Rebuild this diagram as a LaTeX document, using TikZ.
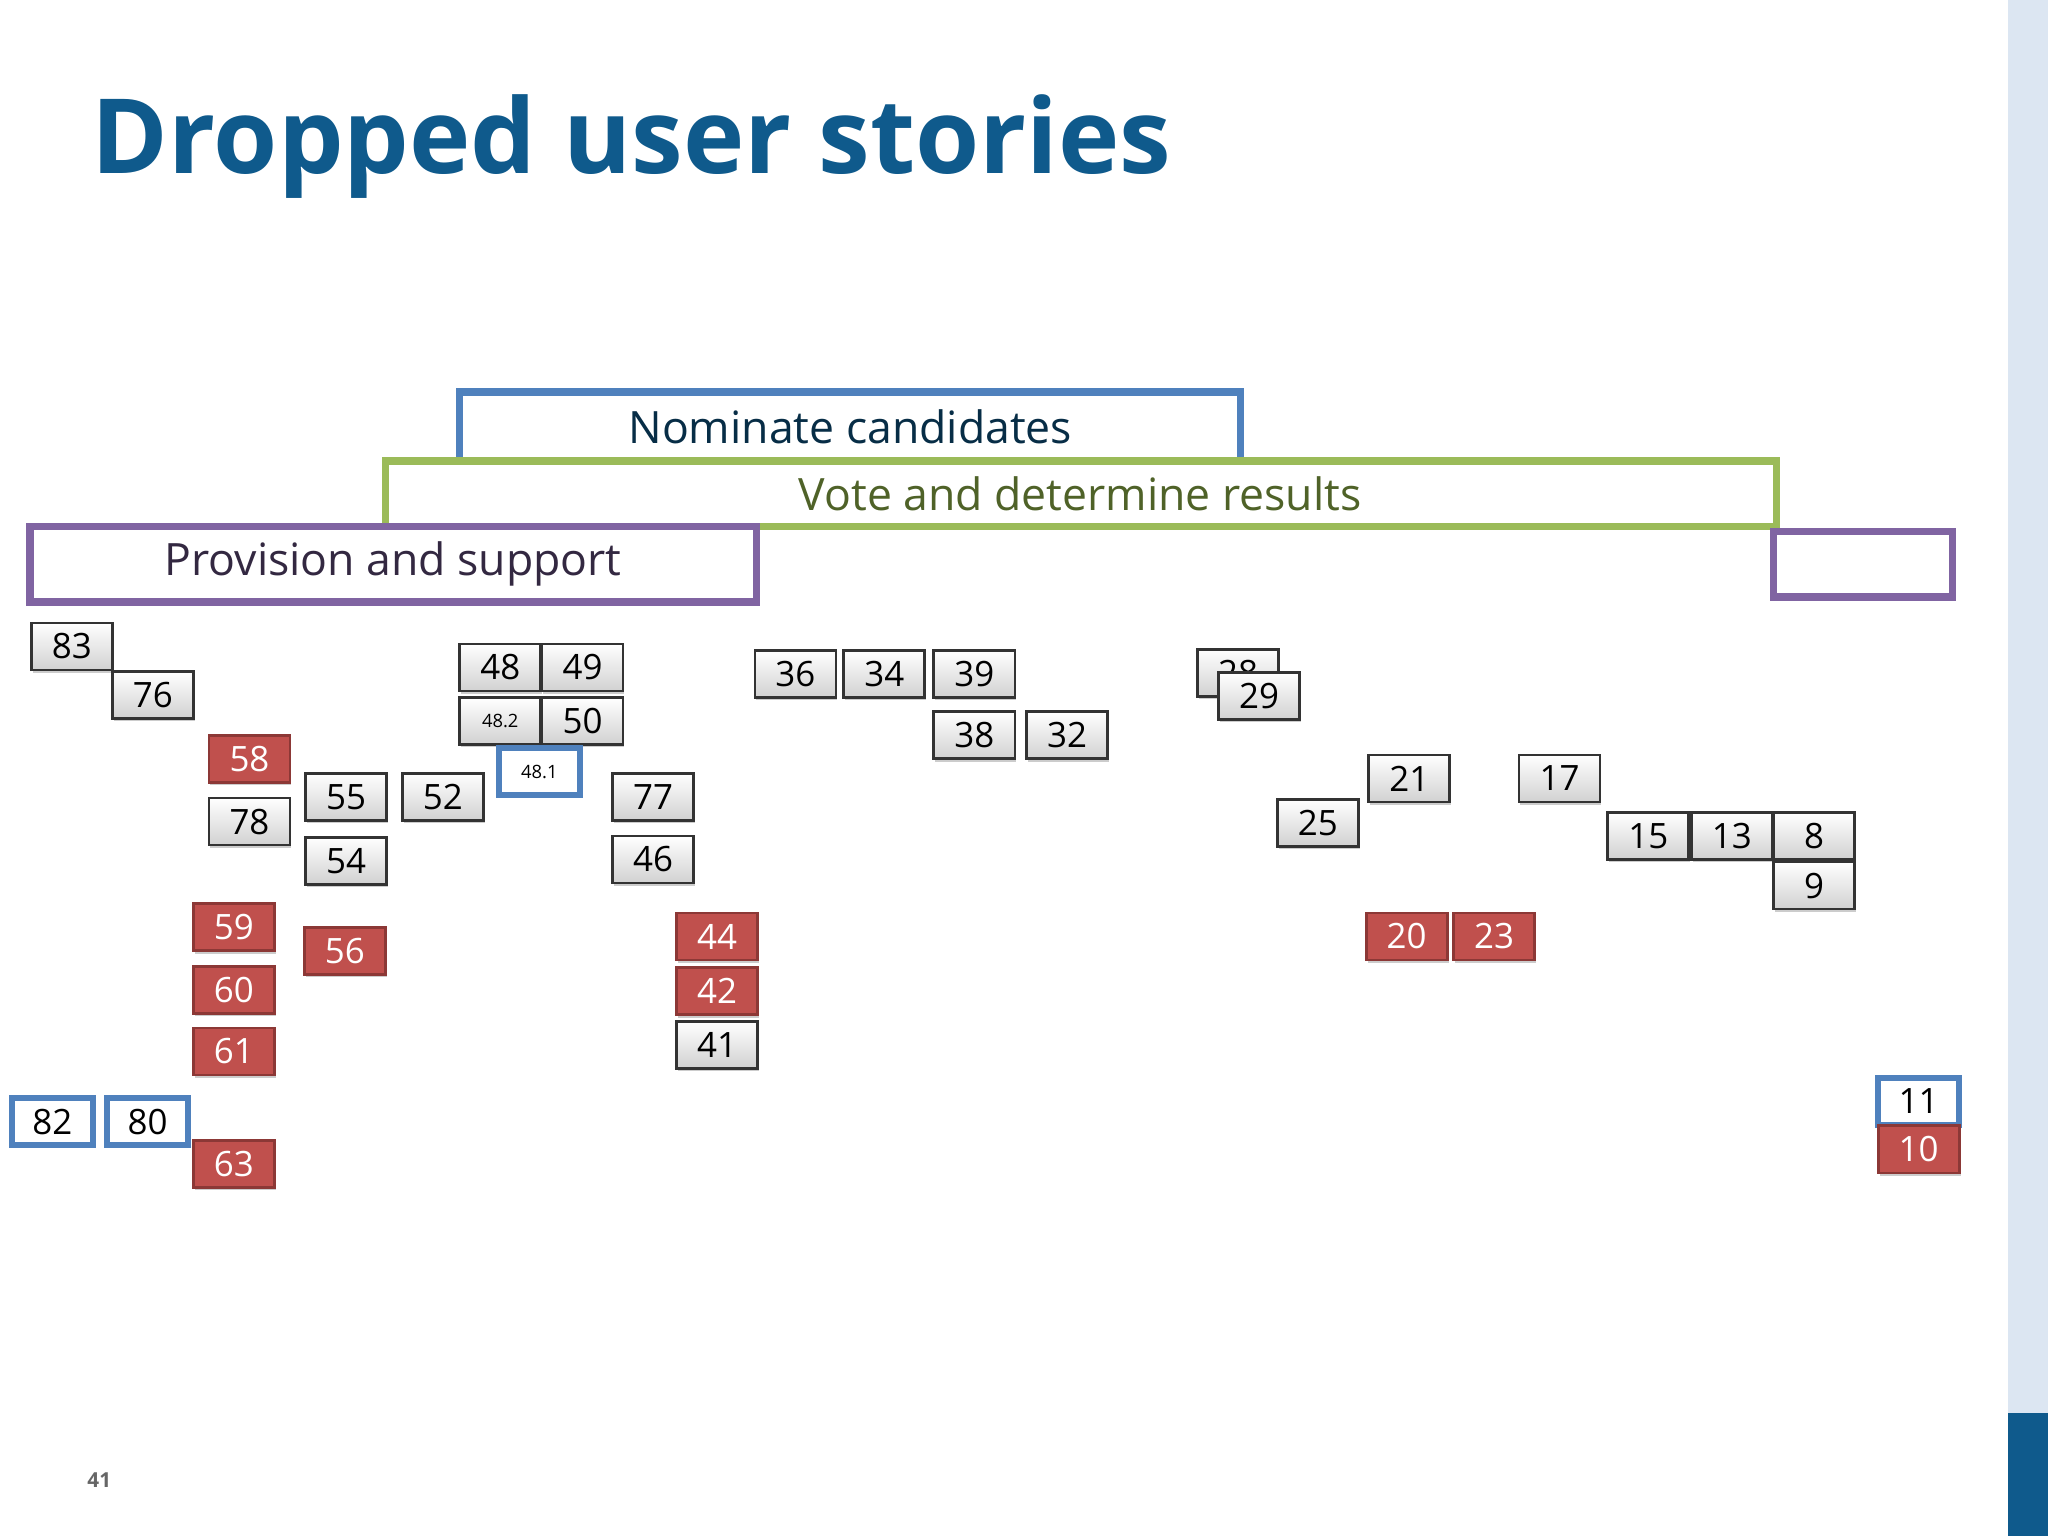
\documentclass[tikz,border=0pt]{standalone}
\usepackage{fontspec}
\setmainfont{Open Sans}
\usetikzlibrary{shadows}
\definecolor{titleblue}{HTML}{0F5A8C}
\definecolor{bred}{HTML}{C0504D}
\definecolor{bredd}{HTML}{8C3836}
\definecolor{bblue}{HTML}{4F81BD}
\definecolor{bgreen}{HTML}{9BBB59}
\definecolor{bpurple}{HTML}{8064A2}
\definecolor{strip}{HTML}{DCE6F2}
\definecolor{olive}{HTML}{4F6228}
\tikzset{
 x=0.01cm,y=-0.01cm,
 st/.style={draw=black!80,line width=0.6pt,minimum width=0.62cm,minimum height=0.36cm,inner sep=0pt,font=\fontsize{7.6}{9}\selectfont,top color=white,bottom color=black!18,drop shadow={shadow xshift=0.3pt,shadow yshift=-0.6pt,opacity=0.4}},
 rd/.style={st,top color=bred,bottom color=bred,draw=bredd,text=white},
 bl/.style={st,top color=white,bottom color=white,draw=bblue,line width=1.3pt,drop shadow={opacity=0}},
 ban/.style={line width=1.6pt,fill=white},
 bant/.style={font=\fontsize{9.7}{11}\selectfont},
}
\begin{document}
\begin{tikzpicture}
\useasboundingbox (0,0) rectangle (1568,1176);
\fill[white] (0,0) rectangle (1568,1176);
\fill[strip] (1537,0) rectangle (1568,1176);
\fill[titleblue] (1537,1082) rectangle (1568,1176);
\node[anchor=west,text=titleblue,font=\bfseries\fontsize{22.6}{25}\selectfont] (title) at (58,112) {Dropped user stories};
\node[text=black!60,font=\bfseries\fontsize{4.5}{5}\selectfont] (pg) at (76,1133) {41};
% banners
\draw[ban,draw=bblue] (352,352) -- (352,300) -- (950,300) -- (950,352);
\node[bant,text=titleblue!50!black] (nom) at (651,327) {Nominate candidates};
\draw[ban,draw=bgreen] (295,353) rectangle (1360,403);
\node[bant,text=olive] (vote) at (827,378) {Vote and determine results};
\draw[ban,draw=bpurple] (23,403) rectangle (579,461);
\node[bant,text=bpurple!40!black] (prov) at (301,432) {Provision and support};
\draw[ban,draw=bpurple] (1358,407) rectangle (1495,457);
% boxes
\node[st] (b83) at (55,495) {83};
\node[st] (b76) at (117,532) {76};
\node[rd] (b58) at (191,581) {58};
\node[st] (b78) at (191,629) {78};
\node[st] (b55) at (265,610) {55};
\node[st] (b54) at (265,659) {54};
\node[st] (b52) at (339,610) {52};
\node[st] (b48) at (383,511) {48};
\node[st] (b49) at (446,511) {49};
\node[st,font=\fontsize{4}{5}\selectfont] (b482) at (383,552) {48.2};
\node[st] (b50) at (446,552) {50};
\node[bl,font=\fontsize{4}{5}\selectfont] (b481) at (413,591) {48.1};
\node[st] (b77) at (500,610) {77};
\node[st] (b46) at (500,658) {46};
\node[rd] (b59) at (179,710) {59};
\node[rd] (b60) at (179,758) {60};
\node[rd] (b61) at (179,805) {61};
\node[rd] (b63) at (179,891) {63};
\node[rd] (b56) at (264,728) {56};
\node[bl] (b82) at (40,859) {82};
\node[bl] (b80) at (113,859) {80};
\node[rd] (b44) at (549,717) {44};
\node[rd] (b42) at (549,759) {42};
\node[st] (b41) at (549,800) {41};
\node[st] (b36) at (609,516) {36};
\node[st] (b34) at (677,516) {34};
\node[st] (b39) at (746,516) {39};
\node[st] (b38) at (746,563) {38};
\node[st] (b32) at (817,563) {32};
\node[st] (b28) at (948,515) {28};
\node[st] (b29) at (964,533) {29};
\node[st] (b21) at (1079,596) {21};
\node[st] (b17) at (1194,596) {17};
\node[st] (b25) at (1009,630) {25};
\node[st] (b15) at (1262,640) {15};
\node[st] (b13) at (1326,640) {13};
\node[st] (b8) at (1389,640) {8};
\node[st] (b9) at (1389,678) {9};
\node[rd] (b20) at (1077,717) {20};
\node[rd] (b23) at (1144,717) {23};
\node[bl] (b11) at (1469,843) {11};
\node[rd,drop shadow={opacity=0}] (b10) at (1469,880) {10};
\end{tikzpicture}
\end{document}
